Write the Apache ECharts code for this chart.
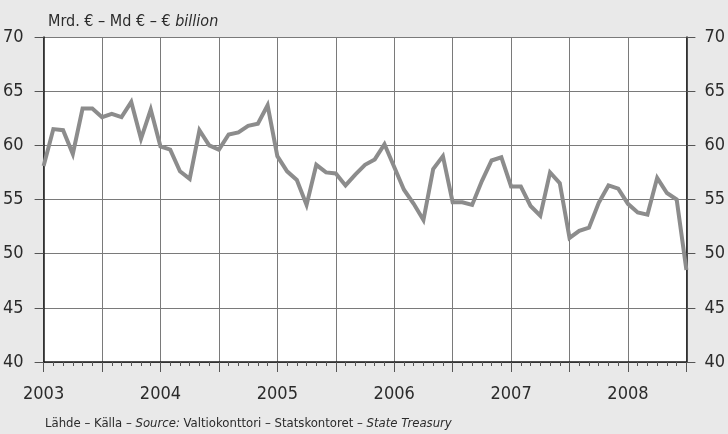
<!DOCTYPE html>
<html>
<head>
<meta charset="utf-8">
<script src="https://cdn.jsdelivr.net/npm/echarts@6/dist/echarts.min.js"></script>
<style>
html,body{margin:0;padding:0;background:#e9e9e9;}
#chart{width:728px;height:434px;}
</style>
</head>
<body>
<div id="chart"></div>
<script>
// Monthly values, Jan 2003 – Jul 2008 (bn €)
var startYear = 2003;
var values2003 = [58.1, 61.5, 61.4, 59.2, 63.4, 63.4, 62.6, 62.9, 62.6, 64.0, 60.6, 63.3];
var values2004 = [59.9, 59.6, 57.6, 56.9, 61.4, 60.0, 59.6, 61.0, 61.2, 61.8, 62.0, 63.7];
var values2005 = [59.0, 57.6, 56.8, 54.5, 58.2, 57.5, 57.4, 56.3, 57.3, 58.2, 58.7, 60.1];
var values2006 = [58.0, 55.9, 54.6, 53.1, 57.8, 59.0, 54.75, 54.75, 54.5, 56.7, 58.6, 58.9];
var values2007 = [56.2, 56.2, 54.4, 53.5, 57.5, 56.5, 51.45, 52.1, 52.4, 54.7, 56.3, 56.0];
var values2008 = [54.6, 53.8, 53.6, 57.0, 55.6, 55.0, 48.5];
var yTicks = [40, 45, 50, 55, 60, 65, 70];
var yearLabels = ['2003', '2004', '2005', '2006', '2007', '2008'];

var allValues = [].concat(values2003, values2004, values2005, values2006, values2007, values2008);
var seriesData = allValues.map(function (v, i) { return [i, v]; });

var FONT = "'Liberation Sans Narrow', 'DejaVu Sans Condensed', 'Liberation Sans', sans-serif";
var TXT = '#2b2b2b';

var chart = echarts.init(document.getElementById('chart'), null, {renderer: 'canvas'});

var yAxisCommon = {
  type: 'value',
  min: yTicks[0],
  max: yTicks[yTicks.length - 1],
  interval: 5,
  axisLine: {show: true, lineStyle: {color: '#1a1a1a', width: 1.5}},
  axisTick: {show: true, length: 9, lineStyle: {color: '#555', width: 1}},
  splitLine: {show: true, lineStyle: {color: '#7a7a7a', width: 1}},
  axisLabel: {fontFamily: FONT, fontSize: 18, color: TXT}
};

chart.setOption({
  backgroundColor: '#e9e9e9',
  animation: false,
  title: {
    text: '{n|Mrd. € – Md € – € }{i|billion}',
    left: 43,
    top: 9,
    textStyle: {
      fontWeight: 'normal',
      rich: {
        n: {fontFamily: FONT, fontSize: 16, color: TXT, fontWeight: 'normal'},
        i: {fontFamily: FONT, fontSize: 16, color: TXT, fontStyle: 'italic', fontWeight: 'normal'}
      }
    }
  },
  graphic: [{
    type: 'text',
    left: 45,
    top: 417,
    style: {
      text: '{n|Lähde – Källa – }{i|Source:}{n| Valtiokonttori – Statskontoret – }{i|State Treasury}',
      rich: {
        n: {fontFamily: FONT, fontSize: 13, fill: TXT},
        i: {fontFamily: FONT, fontSize: 13, fill: TXT, fontStyle: 'italic'}
      }
    }
  }],
  grid: {
    left: 42, right: 37, top: 37, bottom: 72,
    show: true, backgroundColor: '#ffffff', borderWidth: 0
  },
  xAxis: {
    type: 'value',
    min: 0,
    max: allValues.length - 1,
    interval: 6,
    axisLine: {show: true, onZero: false, lineStyle: {color: '#1a1a1a', width: 1.5}},
    axisTick: {show: true, length: 10, lineStyle: {color: '#555', width: 1}},
    minorTick: {show: true, splitNumber: 6, length: 4, lineStyle: {color: '#555', width: 1}},
    splitLine: {show: true, lineStyle: {color: '#7a7a7a', width: 1}},
    axisLabel: {
      margin: 23,
      fontFamily: FONT, fontSize: 18, color: TXT,
      showMaxLabel: false,
      formatter: function (v) {
        return v % 12 === 0 ? yearLabels[v / 12] : '';
      }
    }
  },
  yAxis: [
    Object.assign({}, yAxisCommon, {position: 'left', axisLabel: Object.assign({}, yAxisCommon.axisLabel, {margin: 20})}),
    Object.assign({}, yAxisCommon, {position: 'right', splitLine: {show: false}, axisLabel: Object.assign({}, yAxisCommon.axisLabel, {margin: 18})})
  ],
  series: [{
    type: 'line',
    data: seriesData,
    yAxisIndex: 0,
    showSymbol: false,
    symbol: 'none',
    lineStyle: {color: '#8c8c8c', width: 4, join: 'miter'},
    z: 5
  }]
});
</script>
</body>
</html>
